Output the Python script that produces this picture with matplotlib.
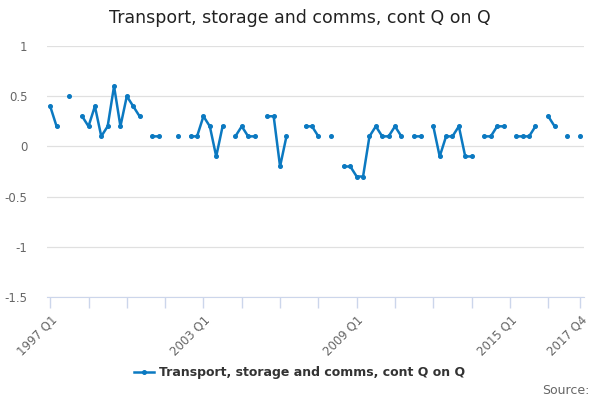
import numpy as np
import matplotlib.pyplot as plt

# quarters 1997 Q1 .. 2017 Q4, None = no value
quarters = [f"{y} Q{q}" for y in range(1997, 2018) for q in range(1, 5)]
values = [
    0.4, 0.2, None, 0.5, None, 0.3, 0.2, 0.4, 0.1, 0.2, 0.6, 0.2,
    0.5, 0.4, 0.3, None, 0.1, 0.1, None, None, 0.1, None, 0.1, 0.1,
    0.3, 0.2, -0.1, 0.2, None, 0.1, 0.2, 0.1, 0.1, None, 0.3, 0.3,
    -0.2, 0.1, None, None, 0.2, 0.2, 0.1, None, 0.1, None, -0.2, -0.2,
    -0.3, -0.3, 0.1, 0.2, 0.1, 0.1, 0.2, 0.1, None, 0.1, 0.1, None,
    0.2, -0.1, 0.1, 0.1, 0.2, -0.1, -0.1, None, 0.1, 0.1, 0.2, 0.2,
    None, 0.1, 0.1, 0.1, 0.2, None, 0.3, 0.2, None, 0.1, None, 0.1,
]
label_quarters = ["1997 Q1", "2003 Q1", "2009 Q1", "2015 Q1", "2017 Q4"]
series_name = "Transport, storage and comms, cont Q on Q"

line_col = "#0b79c1"
x = np.arange(len(quarters))
y = np.array([np.nan if v is None else v for v in values])

fig = plt.figure(figsize=(6, 4), dpi=100)
ax = fig.add_axes([47 / 600, 1 - 297 / 400, 537 / 600, 251 / 400])

ax.plot(x, y, color=line_col, lw=1.8, marker="o", ms=2.6, label=series_name)

ax.set_ylim(-1.5, 1)
ax.set_yticks([-1.5, -1, -0.5, 0, 0.5, 1])
ax.set_yticklabels(["-1.5", "-1", "-0.5", "0", "0.5", "1"])
ax.set_xlim(-0.5, len(quarters) - 0.4)

ticks = list(range(0, len(quarters), 6)) + [len(quarters) - 1]
ax.set_xticks(ticks)
ax.set_xticklabels([quarters[t] if quarters[t] in label_quarters else "" for t in ticks],
                   rotation=45, ha="right", rotation_mode="anchor")

ax.grid(axis="y", color="#e0e0e0", lw=0.9)
ax.set_axisbelow(True)
for s in ["top", "right", "left"]:
    ax.spines[s].set_visible(False)
ax.spines["bottom"].set_color("#ccd6eb")
ax.tick_params(axis="x", colors="#ccd6eb", length=8, width=1, labelcolor="#666666", labelsize=8.5)
ax.tick_params(axis="y", length=0, labelcolor="#666666", labelsize=8.5, pad=14)

fig.text(0.5, 0.955, series_name, ha="center", va="center", fontsize=12.5, color="#222222")

leg = fig.legend(loc="center", bbox_to_anchor=(0.5, 0.068), frameon=False,
                 prop={"size": 9, "weight": "bold"}, handlelength=1.6, handletextpad=0.4)
for t in leg.get_texts():
    t.set_color("#333333")

fig.text(0.982, 0.025, "Source:", ha="right", va="center", fontsize=9, color="#666666")

fig.savefig("out.png", dpi=100)
